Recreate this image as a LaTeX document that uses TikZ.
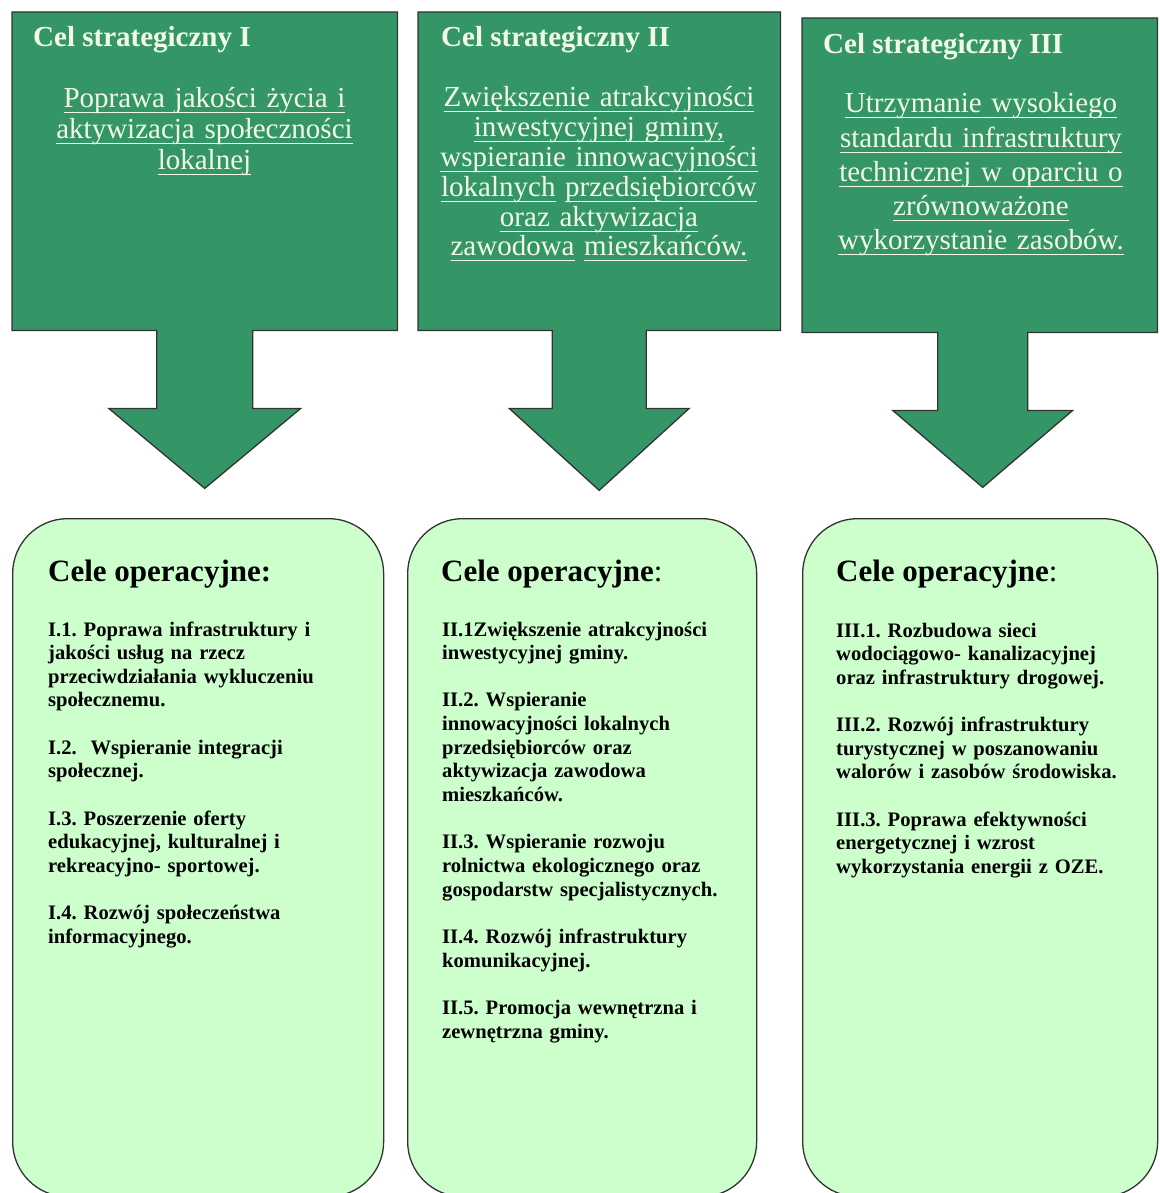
\documentclass[tikz,border=0pt]{standalone}
\usepackage{fontspec}
\setmainfont{Liberation Serif}
\usetikzlibrary{calc}
\frenchspacing
\definecolor{ciemnazielen}{RGB}{52,150,102}
\definecolor{jasnazielen}{RGB}{204,255,204}
\definecolor{kremowy}{RGB}{242,250,228}
% podkreslenie na stalej glebokosci
\newcommand{\podkr}[1]{\leavevmode\setbox0\hbox{#1}\rlap{\rule[-5.5pt]{\wd0}{1.1pt}}\box0\relax}
\tikzset{
  strat/.style={fill=ciemnazielen, draw=black!80, line width=1.3pt, line join=miter},
  operbox/.style={draw=black!80, fill=jasnazielen, line width=1.3pt, rounded corners=55pt,
    anchor=north west, inner sep=0pt},
  tytul/.style={anchor=base west, inner sep=0pt, text=kremowy,
    font=\fontsize{29}{30}\selectfont\bfseries},
  opis/.style={anchor=base, inner sep=0pt, text=kremowy, align=center, text width=350pt,
    font=\fontsize{29}{#1}\selectfont},
  naglowek/.style={anchor=base west, inner sep=0pt, font=\fontsize{31}{33}\selectfont\bfseries},
  punkty/.style={anchor=base west, inner sep=0pt, align=left, text width=330pt,
    font=\fontsize{20.6}{23.65}\selectfont\bfseries}
}
\begin{document}
\begin{tikzpicture}[x=1pt, y=-1pt]
  \useasboundingbox (0,0) rectangle (1159,1193);

  % cele strategiczne
  \node[anchor=north west, minimum width=385pt, minimum height=318pt, inner sep=0pt] (s1) at (12,12) {};
  \node[anchor=north west, minimum width=362pt, minimum height=318pt, inner sep=0pt] (s2) at (418,12) {};
  \node[anchor=north west, minimum width=355pt, minimum height=314pt, inner sep=0pt] (s3) at (802,18) {};

  % strzalki
  \draw[strat] (s1.north west) -- (s1.north east) -- (s1.south east)
    -- ($(s1.south)+(48,0)$) -- ++(0,78) -- ++(48,0) -- ($(s1.south)+(0,158)$)
    -- ($(s1.south)+(-96,78)$) -- ++(48,0) -- ($(s1.south)+(-48,0)$)
    -- (s1.south west) -- cycle;
  \draw[strat] (s2.north west) -- (s2.north east) -- (s2.south east)
    -- ($(s2.south)+(47,0)$) -- ++(0,78) -- ++(43,0) -- ($(s2.south)+(0,160)$)
    -- ($(s2.south)+(-90,78)$) -- ++(43,0) -- ($(s2.south)+(-47,0)$)
    -- (s2.south west) -- cycle;
  \draw[strat] (s3.north west) -- (s3.north east) -- (s3.south east)
    -- ($(s3.south)+(48,0)$) -- ++(0,78) -- ++(45,0) -- ($(s3.south)+(3,155)$)
    -- ($(s3.south)+(-87,78)$) -- ++(45,0) -- ($(s3.south)+(-42,0)$)
    -- (s3.south west) -- cycle;

  % teksty celow strategicznych
  \node[tytul] (t1) at (33,47) {Cel strategiczny I};
  \node[tytul] (t2) at (441,47) {Cel strategiczny II};
  \node[tytul] (t3) at (823,54) {Cel strategiczny III};

  \node[opis=31] (b1) at (204.5,108) {\podkr{Poprawa jakości życia i}\\
    \podkr{aktywizacja społeczności}\\ \podkr{lokalnej}};
  \node[opis=29.8] (b2) at (599,107) {\podkr{Zwiększenie atrakcyjności}\\
    \podkr{inwestycyjnej gminy,}\\ \podkr{wspieranie innowacyjności}\\
    \podkr{lokalnych} \podkr{przedsiębiorców}\\ \podkr{oraz aktywizacja}\\
    \podkr{zawodowa} \podkr{mieszkańców.}};
  \node[opis=34.25] (b3) at (981,113) {\podkr{Utrzymanie wysokiego}\\
    \podkr{standardu infrastruktury}\\ \podkr{technicznej w oparciu o}\\
    \podkr{zrównoważone}\\ \podkr{wykorzystanie zasobów.}};

  % cele operacyjne
  \node[operbox, minimum width=371pt, minimum height=678pt] (o1) at (12,518) {};
  \node[operbox, minimum width=349pt, minimum height=678pt] (o2) at (407,518) {};
  \node[operbox, minimum width=355pt, minimum height=678pt] (o3) at (802,518) {};

  \node[naglowek] (n1) at (48,581) {Cele operacyjne:};
  \node[naglowek] (n2) at (441,581) {Cele operacyjne\textmd{:}};
  \node[naglowek] (n3) at (836,581) {Cele operacyjne\textmd{:}};

  \node[punkty] (p1) at (48,636) {I.1. Poprawa infrastruktury i\\
    jakości usług na rzecz\\ przeciwdziałania wykluczeniu\\ społecznemu.\\[23.65pt]
    I.2.\ \ Wspieranie integracji\\ społecznej.\\[23.65pt]
    I.3. Poszerzenie oferty\\ edukacyjnej, kulturalnej i\\ rekreacyjno- sportowej.\\[23.65pt]
    I.4. Rozwój społeczeństwa\\ informacyjnego.};
  \node[punkty] (p2) at (442,636) {II.1Zwiększenie atrakcyjności\\
    inwestycyjnej gminy.\\[23.65pt]
    II.2. Wspieranie\\ innowacyjności lokalnych\\ przedsiębiorców oraz\\
    aktywizacja zawodowa\\ mieszkańców.\\[23.65pt]
    II.3. Wspieranie rozwoju\\ rolnictwa ekologicznego oraz\\
    gospodarstw specjalistycznych.\\[23.65pt]
    II.4. Rozwój infrastruktury\\ komunikacyjnej.\\[23.65pt]
    II.5. Promocja wewnętrzna i\\ zewnętrzna gminy.};
  \node[punkty] (p3) at (836,637) {III.1. Rozbudowa sieci\\
    wodociągowo- kanalizacyjnej\\ oraz infrastruktury drogowej.\\[23.65pt]
    III.2. Rozwój infrastruktury\\ turystycznej w poszanowaniu\\
    walorów i zasobów środowiska.\\[23.65pt]
    III.3. Poprawa efektywności\\ energetycznej i wzrost\\
    wykorzystania energii z OZE.};
\end{tikzpicture}
\end{document}
